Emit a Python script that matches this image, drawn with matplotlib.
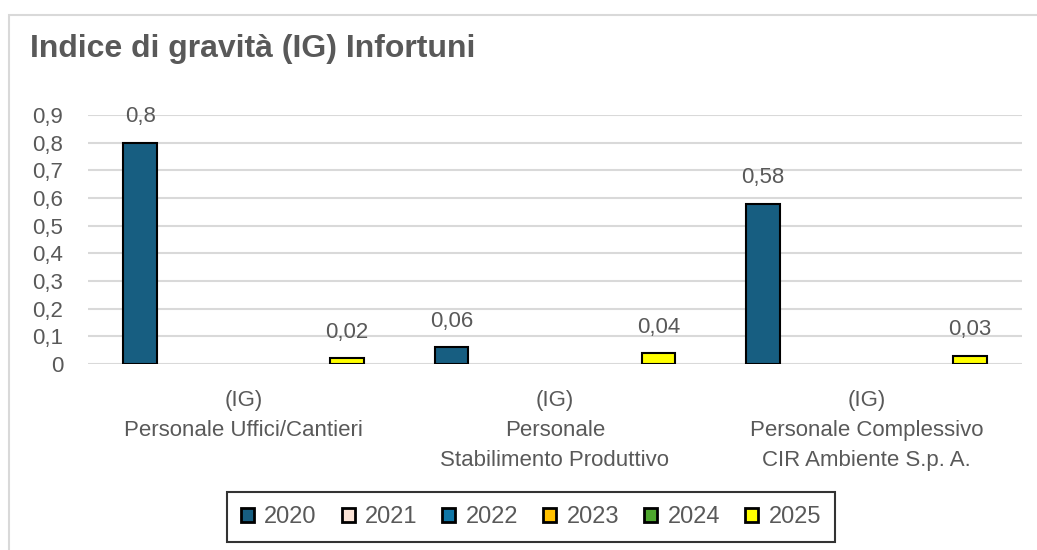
import matplotlib.pyplot as plt
import matplotlib.patches as patches
import numpy as np

plt.rcParams['font.family'] = ['Liberation Sans', 'DejaVu Sans']

# dati
categorie = ['(IG)\nPersonale Uffici/Cantieri',
             '(IG)\nPersonale\nStabilimento Produttivo',
             '(IG)\nPersonale Complessivo\nCIR Ambiente S.p. A.']
anni = ['2020', '2021', '2022', '2023', '2024', '2025']
v2020 = [0.8, 0.06, 0.58]
v2021 = [np.nan, np.nan, np.nan]
v2022 = [np.nan, np.nan, np.nan]
v2023 = [np.nan, np.nan, np.nan]
v2024 = [np.nan, np.nan, np.nan]
v2025 = [0.02, 0.04, 0.03]
etichette_2020 = ['0,8', '0,06', '0,58']
etichette_2025 = ['0,02', '0,04', '0,03']
colori = ['#175e81', '#fbe3d6', '#0f76a6', '#ffc000', '#4ea72e', '#ffff00']

serie = [v2020, v2021, v2022, v2023, v2024, v2025]
grigio = '#595959'
fs = 16

fig = plt.figure(figsize=(10.37, 5.5), dpi=100)
# cornice del grafico
fig.patches.append(patches.Rectangle((9 / 1037, -0.1), 1.2, 1 - 15 / 550 + 0.1,
                                     transform=fig.transFigure, fill=False,
                                     edgecolor='#d9d9d9', linewidth=1.5))
ax = fig.add_axes([88 / 1037, 1 - 364 / 550, (1022 - 88) / 1037, (364 - 115) / 550])

x = np.arange(len(categorie))
passo = 0.133
larghezza = 0.109
for i, (anno, vals) in enumerate(zip(anni, serie)):
    pos = x + (i - 2.5) * passo
    ax.bar(pos, vals, larghezza, color=colori[i], edgecolor='black',
           linewidth=1.5, label=anno, zorder=3)

# etichette dei valori
for xi, v, t in zip(x, v2020, etichette_2020):
    ax.annotate(t, (xi - 2.5 * passo, v), xytext=(0, 11), textcoords='offset points',
                ha='center', va='bottom', fontsize=fs, color=grigio)
for xi, v, t in zip(x, v2025, etichette_2025):
    ax.annotate(t, (xi + 2.5 * passo, v), xytext=(0, 11), textcoords='offset points',
                ha='center', va='bottom', fontsize=fs, color=grigio)

ax.set_ylim(0, 0.9)
ax.set_xlim(-0.5, 2.5)
ax.set_yticks(np.arange(0, 0.91, 0.1))
ax.set_yticklabels(['0'] + [f'0,{i}' for i in range(1, 10)])
ax.set_xticks(x)
ax.set_xticklabels(categorie, linespacing=1.55)
ax.tick_params(axis='y', length=0, pad=18, labelsize=fs, labelcolor=grigio)
ax.tick_params(axis='x', length=0, pad=19, labelsize=fs, labelcolor=grigio)
ax.grid(axis='y', color='#d9d9d9', linewidth=1.5, zorder=0)
for s in ax.spines.values():
    s.set_visible(False)

fig.text(30 / 1037, 1 - 49 / 550, 'Indice di gravità (IG) Infortuni',
         fontsize=23, fontweight='bold', color=grigio, va='center', ha='left')

leg = fig.legend(loc='center', bbox_to_anchor=(531 / 1037, 1 - 517 / 550), ncol=6,
                 fontsize=17, frameon=True, fancybox=False, handlelength=0.55,
                 handleheight=0.55, handletextpad=0.45, columnspacing=1.05,
                 borderpad=0.6, labelcolor=grigio)
leg.get_frame().set_edgecolor('black')
leg.get_frame().set_linewidth(1.5)
for h in leg.legend_handles:
    h.set_linewidth(2)

fig.savefig('out.png', dpi=100)
